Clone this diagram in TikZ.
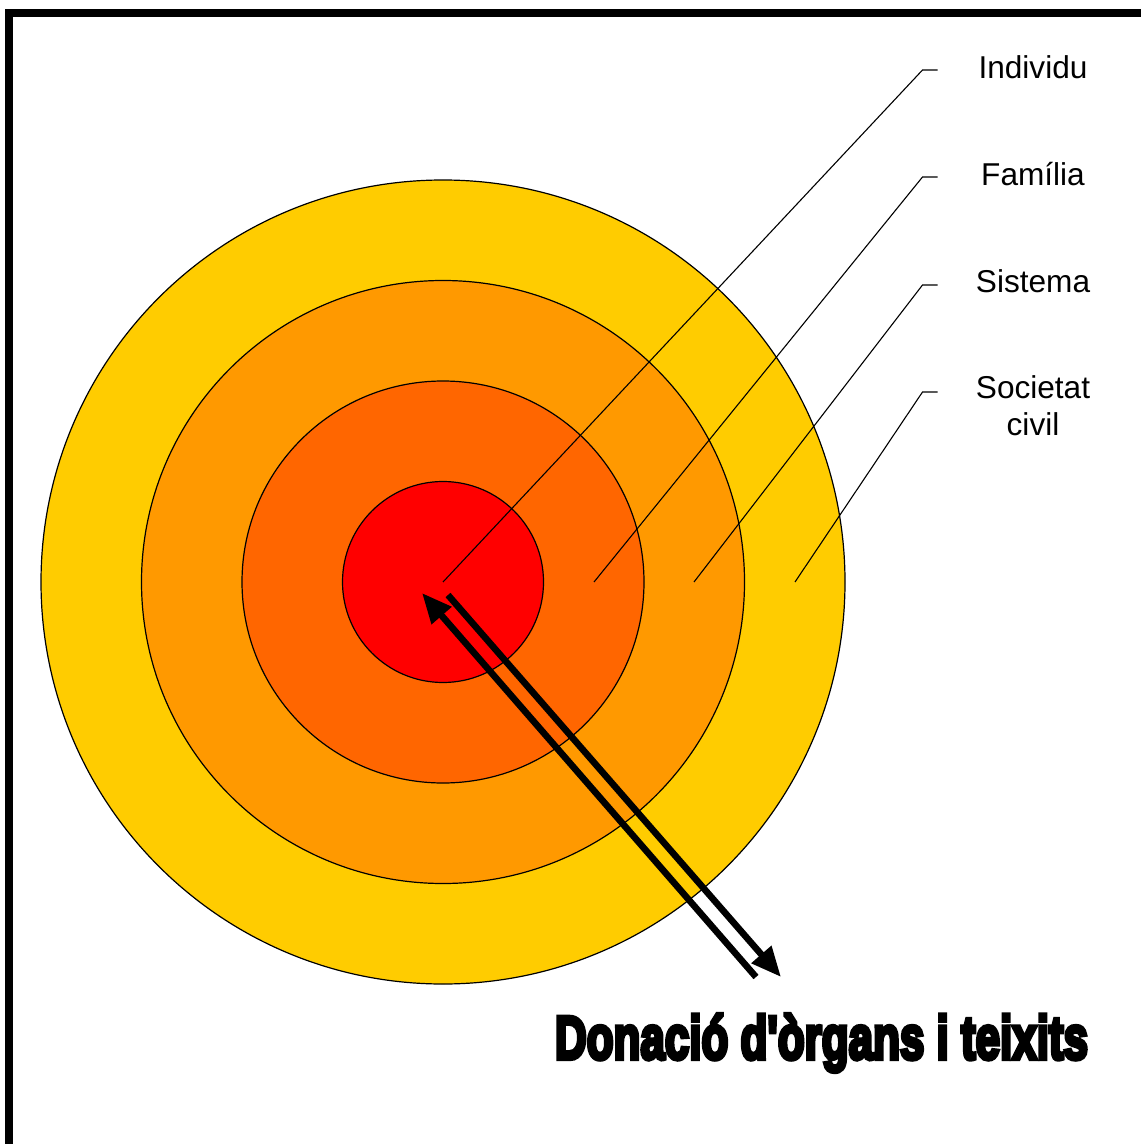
\documentclass[tikz,border=0pt]{standalone}
\usepackage{fontspec}
\setmainfont{Liberation Sans}
\newfontfamily\heavyfont{Liberation Sans}[BoldFeatures={FakeBold=7}]
\usepackage{tikz}
\usepackage{xcolor}
\usetikzlibrary{arrows.meta,positioning,calc}
\definecolor{ringA}{RGB}{255,204,0}
\definecolor{ringB}{RGB}{255,153,0}
\definecolor{ringC}{RGB}{255,102,0}
\definecolor{ringD}{RGB}{255,0,0}

\tikzset{
  ring/.style={circle,draw=black,line width=0.6pt,inner sep=0pt},
  leader/.style={black,line width=0.55pt},
  lbl/.style={font=\fontsize{15.8}{18.5}\selectfont,align=center,inner sep=0pt},
  flow/.style={line width=3.3pt,-{Triangle[length=15pt,width=12.5pt]}}
}

\begin{document}
\begin{tikzpicture}[x=0.5pt,y=-0.5pt]
\useasboundingbox (0,0) rectangle (1141,1144);

% frame (only top and left show)
\draw[line width=4pt] (9,1144) -- (9,13.5) -- (1141,13.5);

% rings
\coordinate (mid) at (443,582);
\foreach \nm/\d/\col in {civil/402pt/ringA, sist/301.5pt/ringB,
                         fam/201pt/ringC, indiv/100.5pt/ringD}{
  \node[ring,fill=\col,minimum size=\d] (\nm) at (mid) {};
}

% leaders and labels
\coordinate (p1) at (443,582);
\coordinate (p2) at (594,582);
\coordinate (p3) at (694,582);
\coordinate (p4) at (795,582);
\foreach \i/\y in {1/70, 2/177, 3/285, 4/392}{
  \coordinate (k\i) at (922.5,\y);
  \coordinate (e\i) at (937.5,\y);
  \draw[leader] (p\i) -- (k\i) -- (e\i);
}
\node[lbl] (tIndiv) at (1033,67) {Individu};
\node[lbl] (tFam) at (1033,174) {Família};
\node[lbl] (tSist) at (1033,281) {Sistema};
\node[lbl] (tCivil) at (1033,406) {Societat\\civil};

% in and out
\coordinate (inS) at (756,977);
\coordinate (inE) at (422,593);
\coordinate (outS) at (448,595);
\coordinate (outE) at (781,977);
\draw[flow] (inS) -- (inE);
\draw[flow] (outS) -- (outE);

\node[inner sep=0pt] (title) at (821.5,1043)
  {\resizebox*{266.5pt}{29pt}{\heavyfont\bfseries Donació d'òrgans i teixits}};

\end{tikzpicture}
\end{document}
